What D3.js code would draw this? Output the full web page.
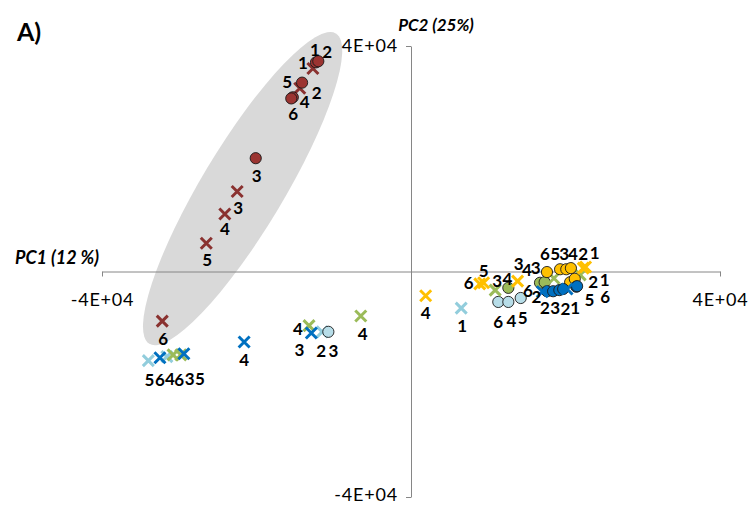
<!DOCTYPE html>
<html><head><meta charset="utf-8">
<script src="https://cdn.jsdelivr.net/npm/d3@7"></script>
<style>body{margin:0;background:#fff}svg{display:block}</style>
</head><body>
<svg id="chart" width="750" height="506"></svg>
<script>
// PCA scores, one row per replicate: [replicate, PC1, PC2]
const darkRedDots = [["1",-12300,37100],["2",-12000,37300],["5",-14100,33500],["4",-15300,30900],["6",-15500,30700],["3",-20100,20100]];
const darkRedCrosses = [["1",-12700,36000],["2",-14400,32500],["3",-22500,14200],["4",-24100,10200],["5",-26500,5000],["6",-32200,-8800]];
const lightBlueCrosses = [["1",6500,-6500],["2",-11500,-10700],["5",-34000,-15800],["4",-31600,-15100]];
const lightBlueDots = [["3",-10700,-10700],["6",11300,-5400],["4",12600,-5400],["5",14200,-4700]];
const greenDots = [["4",12600,-2900],["6",16700,-2000],["3",17300,-1900]];
const greenCrosses = [["3",10900,-3300],["4",18500,-1200],["",21900,-600],["4",-6500,-7900],["4",-13200,-9600],["6",-30800,-14800],["3",-29800,-14800]];
const orangeDots = [["6",17600,-100],["5",19300,400],["3",20100,400],["4",20700,600],["2",20600,-1900],["1",21200,-1300]];
const orangeCrosses = [["4",1900,-4300],["6",8900,-2200],["5",9400,-2000],["3",13800,-1700],["2",22300,600],["1",22600,800]];
const blueDots = [["2",17600,-3500],["3",18400,-3500],["2",19200,-3300],["1",19700,-3100],["5",21400,-2700],["6",21500,-2600]];
const blueCrosses = [["2",17000,-3600],["",20200,-3100],["4",-21600,-12500],["3",-12900,-10900],["6",-32500,-15300],["5",-29400,-14600]];

// Where each replicate number sits relative to its marker (px)
const darkRedDotsNudge = [[-1,-13],[9,-10],[-15,-1],[12,4],[2,15],[1,17]];
const darkRedCrossesNudge = [[-10,-6],[17,4],[1,16],[0,15],[1,16],[1,17]];
const lightBlueCrossesNudge = [[1,17],[-1,19],[1,19],[3,22]];
const lightBlueDotsNudge = [[5,19],[0,20],[3,19],[2,20]];
const greenDotsNudge = [[-1,-9],[-12,8],[-9,-15]];
const greenCrossesNudge = [[2,-10],[-27,-9],[0,0],[2,17],[-11,3],[6,25],[9,24]];
const orangeDotsNudge = [[-2,-19],[-5,-16],[-2,-16],[2,-15],[23,-1],[30,1]];
const orangeCrossesNudge = [[0,17],[-11,-1],[0,-12],[1,-18],[0,-15],[9,-14]];
const blueDotsNudge = [[-2,16],[2,16],[6,18],[12,19],[13,13],[28,10]];
const blueCrossesNudge = [[-6,5],[0,0],[0,18],[-12,17],[0,22],[16,25]];

// Axis extent and end labels
const axisDomain = [-40000, 40000];
const axisTicks = [-40000, 40000];
const tickLabels = ["-4E+04", "4E+04"];
const xTitle = "PC1 (12 %)";
const yTitle = "PC2 (25%)";
const panelTag = "A)";

// Drawing order (back to front) with marker style
const layers = [
  {rows: darkRedCrosses, nudge: darkRedCrossesNudge, shape: "x", color: "#8a3230"},
  {rows: darkRedDots, nudge: darkRedDotsNudge, shape: "o", color: "#9b3431"},
  {rows: lightBlueCrosses, nudge: lightBlueCrossesNudge, shape: "x", color: "#92cddc"},
  {rows: lightBlueDots, nudge: lightBlueDotsNudge, shape: "o", color: "#b7dde8"},
  {rows: greenDots, nudge: greenDotsNudge, shape: "o", color: "#9bbb59"},
  {rows: greenCrosses, nudge: greenCrossesNudge, shape: "x", color: "#9bbb59"},
  {rows: orangeDots, nudge: orangeDotsNudge, shape: "o", color: "#ffc000"},
  {rows: orangeCrosses, nudge: orangeCrossesNudge, shape: "x", color: "#ffc000"},
  {rows: blueDots, nudge: blueDotsNudge, shape: "o", color: "#0070c0"},
  {rows: blueCrosses, nudge: blueCrossesNudge, shape: "x", color: "#0070c0"}
];

const svg = d3.select("#chart");
const x = d3.scaleLinear().domain(axisDomain).range([102, 720]);
const y = d3.scaleLinear().domain(axisDomain).range([497, 46]);

// Grey ellipse enclosing the dark red group
const hull = {cx: -21800, cy: 14700, rx: 181, ry: 41, angle: -59};
svg.append("ellipse")
  .attr("transform", `translate(${x(hull.cx)},${y(hull.cy)}) rotate(${hull.angle})`)
  .attr("rx", hull.rx).attr("ry", hull.ry)
  .attr("fill", "#d9d9d9");

const fmt = v => tickLabels[axisTicks.indexOf(v)];
const xAxis = svg.append("g")
  .attr("transform", `translate(0,${y(0)})`)
  .call(d3.axisBottom(x).tickValues(axisTicks).tickSize(5).tickSizeOuter(0).tickPadding(17).tickFormat(fmt));
const yAxis = svg.append("g")
  .attr("transform", `translate(${x(0)},0)`)
  .call(d3.axisLeft(y).tickValues(axisTicks).tickSize(5).tickSizeOuter(0).tickPadding(8).tickFormat(fmt));
[xAxis, yAxis].forEach(g => {
  g.selectAll("path,line").attr("stroke", "#868686").attr("stroke-width", 1);
  g.selectAll("text").attr("font-family", "Lato, 'Open Sans', sans-serif").attr("font-size", 18)
    .attr("letter-spacing", 0.8).attr("fill", "#000");
});
yAxis.selectAll("text").attr("dy", "0.3em");
// keep the lower end label inside the frame
yAxis.selectAll(".tick").filter(d => d < 0).select("text").attr("dy", "0.2em");

svg.append("text").text(xTitle)
  .attr("x", 57).attr("y", 257).attr("text-anchor", "middle").attr("dominant-baseline", "central")
  .attr("font-family", "Lato, sans-serif").attr("font-weight", 700).attr("font-style", "italic").attr("font-size", 18);
svg.append("text").text(yTitle)
  .attr("x", 436).attr("y", 24).attr("text-anchor", "middle").attr("dominant-baseline", "central")
  .attr("font-family", "Lato, sans-serif").attr("font-weight", 700).attr("font-style", "italic").attr("font-size", 17);
svg.append("text").text(panelTag)
  .attr("x", 17).attr("y", 31).attr("dominant-baseline", "central")
  .attr("font-family", "Lato, sans-serif").attr("font-weight", 700).attr("font-size", 25);

const cross = "M-5.5,-5.5L5.5,5.5M-5.5,5.5L5.5,-5.5";
const marks = svg.append("g");
layers.forEach(L => {
  const g = marks.append("g");
  if (L.shape === "o") {
    g.selectAll("circle").data(L.rows).join("circle")
      .attr("cx", d => x(d[1])).attr("cy", d => y(d[2])).attr("r", 5.6)
      .attr("fill", L.color).attr("stroke", "#1a1a1a").attr("stroke-width", 0.9);
  } else {
    g.selectAll("path").data(L.rows).join("path")
      .attr("transform", d => `translate(${x(d[1])},${y(d[2])})`)
      .attr("d", cross).attr("fill", "none")
      .attr("stroke", L.color).attr("stroke-width", 3);
  }
});

const labels = svg.append("g")
  .attr("font-family", "Lato, sans-serif").attr("font-weight", 700).attr("font-size", 17)
  .attr("text-anchor", "middle").attr("dominant-baseline", "central");
layers.forEach(L => {
  L.rows.forEach((d, i) => {
    if (!d[0]) return;
    labels.append("text").text(d[0])
      .attr("x", x(d[1]) + L.nudge[i][0]).attr("y", y(d[2]) + L.nudge[i][1]);
  });
});
</script>
</body></html>
